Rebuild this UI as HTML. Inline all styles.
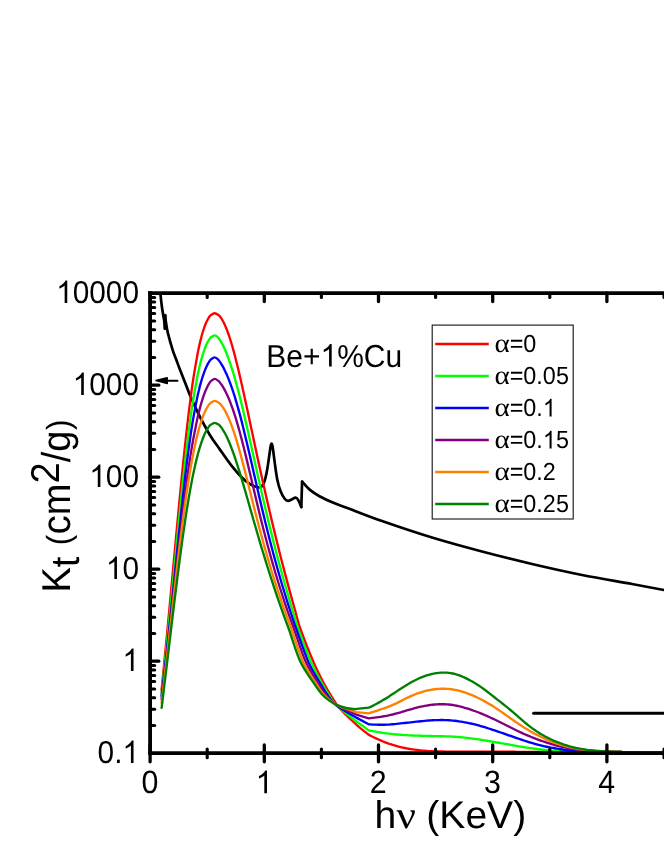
<!DOCTYPE html>
<html><head><meta charset="utf-8"><title>chart</title>
<style>
html,body{margin:0;padding:0;background:#fff;}
body{width:664px;height:860px;overflow:hidden;position:relative;font-family:"Liberation Sans",sans-serif;}
.t{font-family:"Liberation Sans",sans-serif;fill:#000;text-rendering:geometricPrecision;}
.sym{font-family:"Liberation Serif",serif;}
.sym2{font-family:"Liberation Serif",serif;font-style:italic;}
</style></head><body>
<svg width="664" height="860" viewBox="0 0 664 860" style="position:absolute;left:0;top:0;display:block;will-change:transform">
<rect width="664" height="860" fill="#fff"/>
<defs><clipPath id="pc"><rect x="150" y="292.7" width="520" height="462.5"/></clipPath></defs>
<g fill="none" stroke-linejoin="round" stroke-linecap="round" clip-path="url(#pc)">
<path d="M160.00 286.00 C160.08 287.43 160.18 291.15 160.50 294.60 C160.82 298.05 161.45 303.30 161.90 306.70 C162.35 310.10 162.78 312.45 163.20 315.00 C163.62 317.55 164.07 319.77 164.40 322.00 C164.73 324.23 165.07 327.33 165.20 328.40" stroke="#000" stroke-width="2.7"/>
<path d="M165.00 328.40 L165.00 315.30" stroke="#000" stroke-width="3.2"/>
<path d="M165.00 315.30 C165.20 316.75 165.72 321.02 166.20 324.00 C166.68 326.98 166.82 328.85 167.90 333.20 C168.98 337.55 171.28 345.63 172.70 350.10 C174.12 354.57 175.20 356.77 176.40 360.00 C177.60 363.23 178.30 365.33 179.90 369.50 C181.50 373.67 184.25 380.57 186.00 385.00 C187.75 389.43 188.38 391.40 190.40 396.10 C192.42 400.80 194.88 406.77 198.10 413.20 C201.32 419.63 206.05 428.63 209.70 434.70 C213.35 440.77 216.40 444.48 220.00 449.60 C223.60 454.72 227.78 460.88 231.30 465.40 C234.82 469.92 237.97 473.57 241.10 476.70 C244.23 479.83 247.33 482.45 250.10 484.20 C252.87 485.95 255.80 486.80 257.70 487.20 C259.60 487.60 260.38 487.55 261.50 486.60 C262.62 485.65 263.53 483.90 264.40 481.50 C265.27 479.10 266.07 475.27 266.70 472.20 C267.33 469.13 267.55 467.38 268.20 463.10 C268.85 458.82 270.05 449.75 270.60 446.50 C271.15 443.25 271.17 443.60 271.50 443.60 C271.83 443.60 272.05 443.25 272.60 446.50 C273.15 449.75 274.02 457.57 274.80 463.10 C275.58 468.63 276.33 475.00 277.30 479.70 C278.27 484.40 279.37 488.13 280.60 491.30 C281.83 494.47 283.47 497.10 284.70 498.70 C285.93 500.30 286.75 500.82 288.00 500.90 C289.25 500.98 290.95 499.75 292.20 499.20 C293.45 498.65 294.53 497.53 295.50 497.60 C296.47 497.67 297.03 498.03 298.00 499.60 C298.97 501.17 300.75 505.77 301.30 507.00" stroke="#000" stroke-width="2.7"/>
<path d="M301.30 507.00 L302.10 481.70" stroke="#000" stroke-width="2.7"/>
<path d="M302.10 481.70 C303.35 483.02 306.70 487.18 309.60 489.60 C312.50 492.02 315.63 494.05 319.50 496.20 C323.37 498.35 327.83 500.42 332.80 502.50 C337.77 504.58 341.10 505.62 349.30 508.70 C357.50 511.78 368.22 516.20 382.00 521.00 C395.78 525.80 415.33 532.42 432.00 537.50 C448.67 542.58 465.33 547.08 482.00 551.50 C498.67 555.92 515.33 560.08 532.00 564.00 C548.67 567.92 565.33 571.67 582.00 575.00 C598.67 578.33 618.33 581.50 632.00 584.00 C645.67 586.50 656.00 588.50 664.00 590.00 C672.00 591.50 677.33 592.50 680.00 593.00" stroke="#000" stroke-width="2.7"/>
<path d="M161.58 690.00 C162.01 685.68 163.29 672.73 164.14 664.10 C164.98 655.46 165.81 646.83 166.63 638.19 C167.46 629.56 168.27 620.92 169.08 612.29 C169.89 603.65 170.69 595.02 171.50 586.38 C172.30 577.75 173.09 569.12 173.89 560.48 C174.69 551.85 175.49 543.21 176.29 534.58 C177.10 525.94 177.90 517.31 178.72 508.67 C179.55 500.04 180.37 491.40 181.22 482.77 C182.07 474.13 182.93 465.50 183.82 456.87 C184.72 448.23 185.63 439.60 186.61 430.96 C187.59 422.33 188.58 413.69 189.69 405.06 C190.79 396.42 191.91 387.79 193.24 379.15 C194.57 370.52 196.81 358.23 197.68 353.25 C198.56 348.27 198.29 350.25 198.50 349.25 C198.71 348.25 198.78 347.92 198.93 347.25 C199.07 346.58 199.22 345.92 199.37 345.25 C199.52 344.58 199.67 343.92 199.83 343.25 C199.99 342.58 200.14 341.92 200.31 341.25 C200.47 340.58 200.63 339.92 200.80 339.25 C200.97 338.58 201.14 337.92 201.32 337.25 C201.49 336.58 201.67 335.92 201.86 335.25 C202.04 334.58 202.23 333.92 202.43 333.25 C202.62 332.58 202.82 331.92 203.03 331.25 C203.24 330.58 203.45 329.92 203.67 329.25 C203.89 328.58 204.12 327.92 204.35 327.25 C204.59 326.58 204.84 325.92 205.09 325.25 C205.35 324.58 205.62 323.92 205.90 323.25 C206.19 322.58 206.48 321.92 206.81 321.25 C207.13 320.58 207.46 319.92 207.84 319.25 C208.22 318.58 208.60 317.92 209.07 317.25 C209.55 316.58 209.76 315.92 210.70 315.25 C211.64 314.58 213.35 313.25 214.70 313.25 C216.05 313.25 217.81 314.58 218.78 315.25 C219.75 315.92 220.01 316.58 220.53 317.25 C221.04 317.92 221.46 318.58 221.88 319.25 C222.30 319.92 222.67 320.58 223.03 321.25 C223.39 321.92 223.73 322.58 224.06 323.25 C224.38 323.92 224.69 324.58 224.99 325.25 C225.29 325.92 225.57 326.58 225.85 327.25 C226.13 327.92 226.40 328.58 226.66 329.25 C226.92 329.92 227.18 330.58 227.43 331.25 C227.67 331.92 227.92 332.58 228.15 333.25 C228.39 333.92 228.62 334.58 228.85 335.25 C229.08 335.92 229.30 336.58 229.52 337.25 C229.74 337.92 229.95 338.58 230.17 339.25 C230.38 339.92 230.59 340.58 230.79 341.25 C231.00 341.92 231.20 342.58 231.40 343.25 C231.60 343.92 231.79 344.58 231.99 345.25 C232.18 345.92 232.38 346.58 232.57 347.25 C232.76 347.92 232.85 348.25 233.13 349.25 C233.41 350.25 233.27 349.51 234.22 353.25 C235.17 356.99 237.37 365.55 238.84 371.70 C240.31 377.85 241.68 384.00 243.05 390.15 C244.42 396.30 245.74 402.45 247.06 408.60 C248.39 414.75 249.69 420.90 251.00 427.05 C252.31 433.20 253.62 439.35 254.94 445.50 C256.26 451.65 257.58 457.80 258.92 463.95 C260.26 470.10 261.61 476.25 262.98 482.40 C264.35 488.55 265.74 494.70 267.15 500.85 C268.57 507.00 270.00 513.15 271.46 519.30 C272.92 525.45 274.40 531.60 275.91 537.75 C277.42 543.90 278.95 550.05 280.51 556.20 C282.08 562.35 283.67 568.50 285.29 574.65 C286.92 580.80 288.57 586.95 290.26 593.10 C291.94 599.25 293.66 605.40 295.41 611.55 C297.16 617.70 297.77 621.66 300.75 630.00 C303.74 638.34 309.51 652.82 313.30 661.60 C317.09 670.38 320.67 677.25 323.50 682.70 C326.33 688.15 328.63 691.48 330.30 694.30 C331.97 697.12 332.43 697.88 333.50 699.60 C334.57 701.32 335.45 702.90 336.70 704.60 C337.95 706.30 339.45 708.07 341.00 709.80 C342.55 711.53 343.45 712.53 346.00 715.00 C348.55 717.47 353.97 722.45 356.30 724.60 C358.63 726.75 359.38 727.35 360.00 727.90 L368.60 734.60 L370.60 735.71 L372.60 736.74 L374.60 737.71 L376.60 738.64 L378.60 739.52 L380.60 740.37 L382.60 741.23 L384.60 742.04 L386.60 742.81 L388.60 743.55 L390.60 744.24 L392.60 744.88 L394.60 745.49 L396.60 746.06 L398.60 746.59 L400.60 747.09 L402.60 747.55 L404.60 747.98 L406.60 748.37 L408.60 748.74 L410.60 749.07 L412.60 749.38 L414.60 749.67 L416.60 749.93 L418.60 750.17 L420.60 750.38 L422.60 750.58 L424.60 750.75 L426.60 750.91 L428.60 751.05 L430.60 751.16 L432.60 751.26 L434.60 751.34 L436.60 751.41 L438.60 751.46 L440.60 751.50 L442.60 751.53 L444.60 751.55 L446.60 751.57 L448.60 751.59 L450.60 751.60 L452.60 751.61 L454.60 751.62 L456.60 751.63 L458.60 751.63 L460.60 751.64 L462.60 751.65 L464.60 751.65 L466.60 751.66 L468.60 751.67 L470.60 751.67 L472.60 751.68 L474.60 751.68 L476.60 751.69 L478.60 751.70 L480.60 751.70 L482.60 751.71 L484.60 751.71 L486.60 751.72 L488.60 751.73 L490.60 751.73 L492.60 751.74 L494.60 751.75 L496.60 751.75 L498.60 751.76 L500.60 751.76 L502.60 751.77 L504.60 751.77 L506.60 751.78 L508.60 751.78 L510.60 751.79 L512.60 751.79 L514.60 751.79 L516.60 751.80 L518.60 751.80 L520.60 751.80 L522.60 751.80 L524.60 751.80 L526.60 751.80 L528.60 751.80 L530.60 751.80 L532.60 751.80 L534.60 751.80 L536.60 751.80 L538.60 751.80 L540.60 751.80 L542.60 751.80 L544.60 751.80 L546.60 751.80 L548.60 751.80 L550.60 751.80 L552.60 751.80 L554.60 751.80 L556.60 751.80 L558.60 751.80 L560.60 751.80 L562.60 751.80 L564.60 751.80 L566.60 751.80 L568.60 751.80 L570.60 751.80 L572.60 751.80 L574.60 751.80 L576.60 751.80 L578.60 751.80 L580.60 751.80 L582.60 751.80 L584.60 751.80 L586.60 751.80 L588.60 751.80 L590.60 751.80 L592.60 751.80 L594.60 751.80 L596.60 751.81 L598.60 751.81 L600.60 751.81 L602.60 751.82 L604.60 751.83 L606.60 751.84 L608.60 751.86 L610.60 751.87 L612.60 751.90 L614.60 751.92 L616.60 751.95 L618.60 751.98 L620.60 752.01 L622.60 752.05 L624.60 752.09 L626.60 752.13 L628.60 752.17 L630.60 752.21 L632.60 752.25 L634.60 752.29 L636.60 752.33 L638.60 752.36 L640.60 752.39 L642.60 752.41 L644.60 752.44 L646.60 752.46 L648.60 752.48 L650.60 752.50 L652.60 752.51 L654.60 752.53 L656.60 752.54 L658.60 752.55 L660.60 752.56 L662.60 752.57 L664.60 752.58 L666.60 752.59 L668.60 752.59 L670.60 752.59" stroke="#ff0000" stroke-width="2.35"/>
<path d="M161.58 693.00 C162.02 688.93 163.35 676.71 164.22 668.56 C165.08 660.42 165.93 652.27 166.77 644.12 C167.60 635.98 168.43 627.83 169.24 619.68 C170.06 611.54 170.86 603.39 171.66 595.25 C172.46 587.10 173.25 578.95 174.04 570.81 C174.84 562.66 175.62 554.52 176.42 546.37 C177.21 538.22 178.00 530.08 178.81 521.93 C179.62 513.78 180.43 505.64 181.26 497.49 C182.10 489.35 182.94 481.20 183.83 473.05 C184.72 464.91 185.62 456.76 186.59 448.62 C187.56 440.47 188.55 432.32 189.65 424.18 C190.75 416.03 191.87 407.88 193.20 399.74 C194.52 391.59 196.73 380.04 197.61 375.30 C198.49 370.56 198.25 372.30 198.47 371.30 C198.69 370.30 198.77 369.97 198.92 369.30 C199.07 368.63 199.22 367.97 199.38 367.30 C199.54 366.63 199.70 365.97 199.86 365.30 C200.02 364.63 200.19 363.97 200.36 363.30 C200.52 362.63 200.70 361.97 200.87 361.30 C201.05 360.63 201.23 359.97 201.41 359.30 C201.59 358.63 201.78 357.97 201.97 357.30 C202.16 356.63 202.36 355.97 202.56 355.30 C202.76 354.63 202.97 353.97 203.18 353.30 C203.40 352.63 203.62 351.97 203.84 351.30 C204.07 350.63 204.30 349.97 204.55 349.30 C204.79 348.63 205.04 347.97 205.31 347.30 C205.57 346.63 205.84 345.97 206.13 345.30 C206.42 344.63 206.72 343.97 207.05 343.30 C207.37 342.63 207.71 341.97 208.08 341.30 C208.46 340.63 208.84 339.97 209.31 339.30 C209.79 338.63 210.01 337.97 210.91 337.30 C211.81 336.63 213.54 335.30 214.70 335.30 C215.86 335.30 217.07 336.63 217.86 337.30 C218.66 337.97 218.97 338.63 219.45 339.30 C219.93 339.97 220.34 340.63 220.75 341.30 C221.16 341.97 221.53 342.63 221.89 343.30 C222.26 343.97 222.60 344.63 222.94 345.30 C223.27 345.97 223.59 346.63 223.91 347.30 C224.22 347.97 224.52 348.63 224.81 349.30 C225.11 349.97 225.40 350.63 225.68 351.30 C225.96 351.97 226.23 352.63 226.50 353.30 C226.76 353.97 227.03 354.63 227.28 355.30 C227.54 355.97 227.79 356.63 228.04 357.30 C228.29 357.97 228.53 358.63 228.77 359.30 C229.01 359.97 229.24 360.63 229.48 361.30 C229.71 361.97 229.94 362.63 230.16 363.30 C230.39 363.97 230.61 364.63 230.83 365.30 C231.05 365.97 231.27 366.63 231.48 367.30 C231.70 367.97 231.91 368.63 232.12 369.30 C232.33 369.97 232.43 370.30 232.74 371.30 C233.04 372.30 232.96 371.80 233.94 375.30 C234.92 378.80 237.13 386.62 238.61 392.28 C240.10 397.94 241.47 403.60 242.83 409.26 C244.19 414.92 245.49 420.58 246.79 426.24 C248.09 431.90 249.35 437.56 250.62 443.22 C251.89 448.88 253.14 454.54 254.40 460.20 C255.66 465.86 256.91 471.52 258.19 477.18 C259.46 482.84 260.74 488.50 262.04 494.16 C263.34 499.82 264.66 505.48 266.00 511.14 C267.34 516.80 268.70 522.46 270.09 528.12 C271.48 533.78 272.89 539.44 274.34 545.10 C275.78 550.76 277.26 556.42 278.77 562.08 C280.28 567.74 281.82 573.40 283.40 579.06 C284.99 584.72 286.60 590.38 288.26 596.04 C289.92 601.70 291.61 607.36 293.35 613.02 C295.09 618.68 295.78 621.90 298.69 630.00 C301.60 638.10 306.97 652.82 310.80 661.60 C314.63 670.38 318.73 677.25 321.70 682.70 C324.67 688.15 326.15 690.50 328.60 694.30 C331.05 698.10 331.78 701.00 336.40 705.50 C341.02 710.00 352.98 718.67 356.30 721.30 L368.70 730.40 L370.70 730.75 L372.70 731.10 L374.70 731.46 L376.70 731.82 L378.70 732.17 L380.70 732.51 L382.70 732.84 L384.70 733.15 L386.70 733.43 L388.70 733.69 L390.70 733.92 L392.70 734.12 L394.70 734.30 L396.70 734.47 L398.70 734.62 L400.70 734.77 L402.70 734.92 L404.70 735.06 L406.70 735.20 L408.70 735.31 L410.70 735.42 L412.70 735.51 L414.70 735.58 L416.70 735.65 L418.70 735.70 L420.70 735.76 L422.70 735.81 L424.70 735.86 L426.70 735.91 L428.70 735.96 L430.70 736.00 L432.70 736.05 L434.70 736.09 L436.70 736.13 L438.70 736.17 L440.70 736.21 L442.70 736.25 L444.70 736.30 L446.70 736.35 L448.70 736.42 L450.70 736.51 L452.70 736.61 L454.70 736.73 L456.70 736.88 L458.70 737.04 L460.70 737.22 L462.70 737.42 L464.70 737.63 L466.70 737.85 L468.70 738.09 L470.70 738.34 L472.70 738.60 L474.70 738.87 L476.70 739.16 L478.70 739.46 L480.70 739.77 L482.70 740.08 L484.70 740.41 L486.70 740.73 L488.70 741.06 L490.70 741.40 L492.70 741.73 L494.70 742.06 L496.70 742.40 L498.70 742.74 L500.70 743.08 L502.70 743.43 L504.70 743.79 L506.70 744.14 L508.70 744.50 L510.70 744.87 L512.70 745.23 L514.70 745.59 L516.70 745.94 L518.70 746.29 L520.70 746.63 L522.70 746.96 L524.70 747.28 L526.70 747.59 L528.70 747.89 L530.70 748.18 L532.70 748.46 L534.70 748.73 L536.70 748.99 L538.70 749.25 L540.70 749.49 L542.70 749.73 L544.70 749.96 L546.70 750.17 L548.70 750.37 L550.70 750.56 L552.70 750.72 L554.70 750.86 L556.70 750.98 L558.70 751.08 L560.70 751.17 L562.70 751.24 L564.70 751.31 L566.70 751.36 L568.70 751.40 L570.70 751.45 L572.70 751.48 L574.70 751.51 L576.70 751.54 L578.70 751.57 L580.70 751.60 L582.70 751.62 L584.70 751.64 L586.70 751.66 L588.70 751.68 L590.70 751.70 L592.70 751.71 L594.70 751.73 L596.70 751.74 L598.70 751.76 L600.70 751.78 L602.70 751.79 L604.70 751.81 L606.70 751.83 L608.70 751.85 L610.70 751.87 L612.70 751.89 L614.70 751.92 L616.70 751.95 L618.70 751.98 L620.70 752.02 L622.70 752.06 L624.70 752.10 L626.70 752.14 L628.70 752.18 L630.70 752.22 L632.70 752.26 L634.70 752.30 L636.70 752.33 L638.70 752.36 L640.70 752.39 L642.70 752.41 L644.70 752.44 L646.70 752.46 L648.70 752.48 L650.70 752.50 L652.70 752.51 L654.70 752.53 L656.70 752.54 L658.70 752.55 L660.70 752.56 L662.70 752.57 L664.70 752.58 L666.70 752.59 L668.70 752.59 L670.70 752.59" stroke="#00ff00" stroke-width="2.35"/>
<path d="M161.58 696.00 C162.04 692.17 163.41 680.69 164.29 673.03 C165.17 665.37 166.04 657.72 166.88 650.06 C167.73 642.41 168.56 634.75 169.38 627.09 C170.20 619.44 171.00 611.78 171.79 604.12 C172.59 596.47 173.37 588.81 174.15 581.15 C174.93 573.50 175.71 565.84 176.49 558.18 C177.27 550.53 178.04 542.87 178.83 535.22 C179.62 527.56 180.41 519.90 181.23 512.25 C182.04 504.59 182.86 496.93 183.73 489.28 C184.60 481.62 185.48 473.96 186.43 466.31 C187.38 458.65 188.35 450.99 189.43 443.34 C190.51 435.68 191.62 428.03 192.92 420.37 C194.23 412.71 196.39 401.89 197.26 397.40 C198.14 392.91 197.93 394.40 198.16 393.40 C198.38 392.40 198.46 392.07 198.62 391.40 C198.78 390.73 198.94 390.07 199.10 389.40 C199.27 388.73 199.43 388.07 199.60 387.40 C199.77 386.73 199.95 386.07 200.12 385.40 C200.30 384.73 200.48 384.07 200.66 383.40 C200.84 382.73 201.03 382.07 201.22 381.40 C201.41 380.73 201.61 380.07 201.81 379.40 C202.01 378.73 202.21 378.07 202.42 377.40 C202.63 376.73 202.84 376.07 203.07 375.40 C203.29 374.73 203.52 374.07 203.75 373.40 C203.99 372.73 204.23 372.07 204.48 371.40 C204.73 370.73 204.99 370.07 205.27 369.40 C205.54 368.73 205.82 368.07 206.12 367.40 C206.42 366.73 206.73 366.07 207.06 365.40 C207.39 364.73 207.74 364.07 208.12 363.40 C208.51 362.73 208.90 362.07 209.38 361.40 C209.85 360.73 210.10 360.07 210.98 359.40 C211.87 358.73 213.55 357.40 214.70 357.40 C215.85 357.40 217.08 358.73 217.88 359.40 C218.69 360.07 219.04 360.73 219.55 361.40 C220.06 362.07 220.50 362.73 220.93 363.40 C221.37 364.07 221.77 364.73 222.16 365.40 C222.55 366.07 222.92 366.73 223.27 367.40 C223.63 368.07 223.98 368.73 224.31 369.40 C224.65 370.07 224.97 370.73 225.29 371.40 C225.60 372.07 225.91 372.73 226.21 373.40 C226.51 374.07 226.80 374.73 227.09 375.40 C227.37 376.07 227.65 376.73 227.92 377.40 C228.20 378.07 228.47 378.73 228.73 379.40 C229.00 380.07 229.25 380.73 229.51 381.40 C229.76 382.07 230.01 382.73 230.26 383.40 C230.51 384.07 230.75 384.73 230.99 385.40 C231.23 386.07 231.46 386.73 231.69 387.40 C231.93 388.07 232.16 388.73 232.38 389.40 C232.61 390.07 232.83 390.73 233.05 391.40 C233.27 392.07 233.38 392.40 233.70 393.40 C234.02 394.40 234.01 394.15 234.96 397.40 C235.92 400.65 238.01 407.74 239.42 412.91 C240.83 418.08 242.13 423.24 243.42 428.41 C244.71 433.58 245.93 438.75 247.15 443.92 C248.37 449.09 249.55 454.26 250.74 459.43 C251.93 464.60 253.09 469.76 254.27 474.93 C255.45 480.10 256.62 485.27 257.82 490.44 C259.01 495.61 260.20 500.78 261.42 505.95 C262.65 511.12 263.88 516.28 265.14 521.45 C266.40 526.62 267.68 531.79 269.00 536.96 C270.32 542.13 271.66 547.30 273.03 552.47 C274.41 557.64 275.82 562.80 277.27 567.97 C278.71 573.14 280.20 578.31 281.72 583.48 C283.25 588.65 284.81 593.82 286.42 598.99 C288.03 604.16 289.68 609.32 291.38 614.49 C293.08 619.66 293.82 622.15 296.62 630.00 C299.42 637.85 304.34 652.82 308.20 661.60 C312.06 670.38 316.67 677.25 319.80 682.70 C322.93 688.15 324.23 690.53 327.00 694.30 C329.77 698.07 331.52 701.42 336.40 705.30 C341.28 709.18 352.98 715.55 356.30 717.60 L368.70 724.30 L370.70 724.44 L372.70 724.55 L374.70 724.63 L376.70 724.69 L378.70 724.73 L380.70 724.74 L382.70 724.74 L384.70 724.72 L386.70 724.66 L388.70 724.56 L390.70 724.42 L392.70 724.25 L394.70 724.06 L396.70 723.85 L398.70 723.63 L400.70 723.41 L402.70 723.20 L404.70 722.99 L406.70 722.79 L408.70 722.58 L410.70 722.37 L412.70 722.15 L414.70 721.92 L416.70 721.70 L418.70 721.47 L420.70 721.25 L422.70 721.05 L424.70 720.85 L426.70 720.68 L428.70 720.52 L430.70 720.38 L432.70 720.26 L434.70 720.17 L436.70 720.10 L438.70 720.05 L440.70 720.03 L442.70 720.04 L444.70 720.07 L446.70 720.14 L448.70 720.24 L450.70 720.38 L452.70 720.55 L454.70 720.77 L456.70 721.01 L458.70 721.30 L460.70 721.61 L462.70 721.94 L464.70 722.30 L466.70 722.68 L468.70 723.08 L470.70 723.51 L472.70 723.96 L474.70 724.44 L476.70 724.94 L478.70 725.48 L480.70 726.04 L482.70 726.63 L484.70 727.24 L486.70 727.86 L488.70 728.50 L490.70 729.15 L492.70 729.81 L494.70 730.48 L496.70 731.15 L498.70 731.82 L500.70 732.50 L502.70 733.19 L504.70 733.88 L506.70 734.57 L508.70 735.27 L510.70 735.97 L512.70 736.67 L514.70 737.36 L516.70 738.06 L518.70 738.75 L520.70 739.43 L522.70 740.10 L524.70 740.75 L526.70 741.40 L528.70 742.03 L530.70 742.64 L532.70 743.23 L534.70 743.81 L536.70 744.35 L538.70 744.88 L540.70 745.38 L542.70 745.85 L544.70 746.30 L546.70 746.73 L548.70 747.14 L550.70 747.53 L552.70 747.90 L554.70 748.26 L556.70 748.60 L558.70 748.93 L560.70 749.23 L562.70 749.52 L564.70 749.79 L566.70 750.04 L568.70 750.26 L570.70 750.45 L572.70 750.62 L574.70 750.76 L576.70 750.88 L578.70 750.99 L580.70 751.08 L582.70 751.15 L584.70 751.22 L586.70 751.29 L588.70 751.34 L590.70 751.39 L592.70 751.44 L594.70 751.49 L596.70 751.53 L598.70 751.58 L600.70 751.62 L602.70 751.66 L604.70 751.70 L606.70 751.74 L608.70 751.78 L610.70 751.82 L612.70 751.86 L614.70 751.90 L616.70 751.94 L618.70 751.99 L620.70 752.03 L622.70 752.08 L624.70 752.12 L626.70 752.16 L628.70 752.20 L630.70 752.24 L632.70 752.28 L634.70 752.31 L636.70 752.34 L638.70 752.37 L640.70 752.39 L642.70 752.42 L644.70 752.44 L646.70 752.46 L648.70 752.48 L650.70 752.50 L652.70 752.51 L654.70 752.53 L656.70 752.54 L658.70 752.55 L660.70 752.56 L662.70 752.57 L664.70 752.58 L666.70 752.59 L668.70 752.59 L670.70 752.59" stroke="#0000ff" stroke-width="2.35"/>
<path d="M161.61 699.00 C162.03 695.41 163.31 684.64 164.14 677.45 C164.98 670.27 165.80 663.09 166.61 655.91 C167.42 648.73 168.23 641.54 169.02 634.36 C169.82 627.18 170.61 620.00 171.40 612.82 C172.19 605.63 172.97 598.45 173.76 591.27 C174.55 584.09 175.33 576.91 176.12 569.72 C176.92 562.54 177.71 555.36 178.53 548.18 C179.34 540.99 180.16 533.81 181.00 526.63 C181.85 519.45 182.70 512.27 183.60 505.08 C184.50 497.90 185.42 490.72 186.40 483.54 C187.38 476.36 188.38 469.17 189.48 461.99 C190.59 454.81 191.72 447.63 193.02 440.45 C194.32 433.26 196.44 423.16 197.30 418.90 C198.17 414.64 197.99 415.90 198.22 414.90 C198.46 413.90 198.54 413.57 198.71 412.90 C198.87 412.23 199.03 411.57 199.20 410.90 C199.37 410.23 199.54 409.57 199.71 408.90 C199.89 408.23 200.06 407.57 200.24 406.90 C200.42 406.23 200.61 405.57 200.79 404.90 C200.98 404.23 201.17 403.57 201.37 402.90 C201.56 402.23 201.76 401.57 201.96 400.90 C202.16 400.23 202.37 399.57 202.58 398.90 C202.80 398.23 203.02 397.57 203.24 396.90 C203.47 396.23 203.69 395.57 203.93 394.90 C204.17 394.23 204.41 393.57 204.67 392.90 C204.92 392.23 205.18 391.57 205.46 390.90 C205.73 390.23 206.01 389.57 206.31 388.90 C206.61 388.23 206.92 387.57 207.25 386.90 C207.59 386.23 207.93 385.57 208.31 384.90 C208.70 384.23 209.08 383.57 209.56 382.90 C210.03 382.23 210.27 381.57 211.15 380.90 C212.02 380.23 213.59 378.90 214.80 378.90 C216.01 378.90 217.51 380.23 218.41 380.90 C219.32 381.57 219.67 382.23 220.22 382.90 C220.76 383.57 221.23 384.23 221.69 384.90 C222.14 385.57 222.56 386.23 222.97 386.90 C223.38 387.57 223.76 388.23 224.14 388.90 C224.51 389.57 224.86 390.23 225.21 390.90 C225.55 391.57 225.89 392.23 226.21 392.90 C226.53 393.57 226.85 394.23 227.15 394.90 C227.46 395.57 227.76 396.23 228.05 396.90 C228.34 397.57 228.62 398.23 228.90 398.90 C229.18 399.57 229.45 400.23 229.72 400.90 C229.98 401.57 230.24 402.23 230.50 402.90 C230.76 403.57 231.01 404.23 231.25 404.90 C231.50 405.57 231.75 406.23 231.99 406.90 C232.22 407.57 232.46 408.23 232.69 408.90 C232.93 409.57 233.15 410.23 233.38 410.90 C233.61 411.57 233.83 412.23 234.05 412.90 C234.27 413.57 234.38 413.90 234.70 414.90 C235.02 415.90 235.07 415.89 235.95 418.90 C236.84 421.91 238.71 428.28 240.00 432.97 C241.28 437.66 242.47 442.36 243.65 447.05 C244.84 451.74 245.96 456.43 247.09 461.12 C248.22 465.81 249.32 470.50 250.42 475.19 C251.53 479.88 252.62 484.58 253.73 489.27 C254.83 493.96 255.94 498.65 257.06 503.34 C258.19 508.03 259.32 512.72 260.48 517.41 C261.64 522.10 262.81 526.80 264.02 531.49 C265.22 536.18 266.45 540.87 267.71 545.56 C268.97 550.25 270.25 554.94 271.58 559.63 C272.90 564.32 274.26 569.02 275.65 573.71 C277.05 578.40 278.48 583.09 279.95 587.78 C281.42 592.47 282.93 597.16 284.49 601.85 C286.05 606.54 287.64 611.24 289.29 615.93 C290.94 620.62 291.65 622.39 294.36 630.00 C297.08 637.61 301.71 652.82 305.60 661.60 C309.49 670.38 314.42 677.25 317.70 682.70 C320.98 688.15 322.18 690.58 325.30 694.30 C328.42 698.02 331.23 701.62 336.40 705.00 C341.57 708.38 352.98 713.00 356.30 714.60 L368.70 718.30 L370.70 718.09 L372.70 717.86 L374.70 717.62 L376.70 717.36 L378.70 717.08 L380.70 716.79 L382.70 716.49 L384.70 716.16 L386.70 715.80 L388.70 715.40 L390.70 714.96 L392.70 714.49 L394.70 713.97 L396.70 713.43 L398.70 712.86 L400.70 712.28 L402.70 711.68 L404.70 711.09 L406.70 710.49 L408.70 709.90 L410.70 709.32 L412.70 708.76 L414.70 708.21 L416.70 707.69 L418.70 707.20 L420.70 706.73 L422.70 706.30 L424.70 705.90 L426.70 705.55 L428.70 705.23 L430.70 704.95 L432.70 704.71 L434.70 704.52 L436.70 704.38 L438.70 704.28 L440.70 704.23 L442.70 704.22 L444.70 704.26 L446.70 704.36 L448.70 704.51 L450.70 704.73 L452.70 705.00 L454.70 705.34 L456.70 705.74 L458.70 706.19 L460.70 706.68 L462.70 707.21 L464.70 707.77 L466.70 708.35 L468.70 708.97 L470.70 709.62 L472.70 710.29 L474.70 711.00 L476.70 711.75 L478.70 712.52 L480.70 713.33 L482.70 714.17 L484.70 715.02 L486.70 715.90 L488.70 716.80 L490.70 717.70 L492.70 718.62 L494.70 719.56 L496.70 720.51 L498.70 721.47 L500.70 722.45 L502.70 723.44 L504.70 724.45 L506.70 725.46 L508.70 726.48 L510.70 727.50 L512.70 728.51 L514.70 729.52 L516.70 730.50 L518.70 731.47 L520.70 732.42 L522.70 733.34 L524.70 734.23 L526.70 735.10 L528.70 735.95 L530.70 736.77 L532.70 737.57 L534.70 738.35 L536.70 739.10 L538.70 739.84 L540.70 740.56 L542.70 741.26 L544.70 741.94 L546.70 742.60 L548.70 743.23 L550.70 743.85 L552.70 744.44 L554.70 745.01 L556.70 745.55 L558.70 746.06 L560.70 746.55 L562.70 747.01 L564.70 747.45 L566.70 747.86 L568.70 748.24 L570.70 748.59 L572.70 748.91 L574.70 749.20 L576.70 749.48 L578.70 749.72 L580.70 749.95 L582.70 750.15 L584.70 750.34 L586.70 750.51 L588.70 750.67 L590.70 750.81 L592.70 750.94 L594.70 751.06 L596.70 751.17 L598.70 751.27 L600.70 751.36 L602.70 751.45 L604.70 751.53 L606.70 751.61 L608.70 751.68 L610.70 751.75 L612.70 751.81 L614.70 751.87 L616.70 751.93 L618.70 751.98 L620.70 752.03 L622.70 752.08 L624.70 752.13 L626.70 752.17 L628.70 752.21 L630.70 752.25 L632.70 752.28 L634.70 752.31 L636.70 752.34 L638.70 752.37 L640.70 752.40 L642.70 752.42 L644.70 752.44 L646.70 752.46 L648.70 752.48 L650.70 752.50 L652.70 752.51 L654.70 752.53 L656.70 752.54 L658.70 752.55 L660.70 752.56 L662.70 752.57 L664.70 752.58 L666.70 752.59 L668.70 752.59 L670.70 752.59" stroke="#800080" stroke-width="2.35"/>
<path d="M161.62 703.00 C162.01 699.64 163.20 689.56 163.98 682.84 C164.76 676.12 165.54 669.40 166.30 662.68 C167.07 655.96 167.83 649.24 168.59 642.52 C169.35 635.79 170.11 629.07 170.86 622.35 C171.62 615.63 172.37 608.91 173.13 602.19 C173.89 595.47 174.65 588.75 175.42 582.03 C176.19 575.31 176.96 568.59 177.75 561.87 C178.54 555.15 179.34 548.43 180.16 541.71 C180.99 534.99 181.82 528.27 182.70 521.55 C183.57 514.83 184.46 508.11 185.42 501.38 C186.37 494.66 187.34 487.94 188.41 481.22 C189.48 474.50 190.57 467.78 191.83 461.06 C193.08 454.34 195.10 444.93 195.95 440.90 C196.79 436.87 196.65 437.90 196.89 436.90 C197.13 435.90 197.22 435.57 197.39 434.90 C197.55 434.23 197.72 433.57 197.90 432.90 C198.07 432.23 198.24 431.57 198.42 430.90 C198.60 430.23 198.78 429.57 198.97 428.90 C199.16 428.23 199.35 427.57 199.54 426.90 C199.73 426.23 199.93 425.57 200.13 424.90 C200.33 424.23 200.54 423.57 200.75 422.90 C200.96 422.23 201.18 421.57 201.40 420.90 C201.62 420.23 201.85 419.57 202.08 418.90 C202.32 418.23 202.56 417.57 202.81 416.90 C203.06 416.23 203.32 415.57 203.58 414.90 C203.85 414.23 204.13 413.57 204.42 412.90 C204.71 412.23 205.01 411.57 205.33 410.90 C205.65 410.23 205.98 409.57 206.33 408.90 C206.69 408.23 207.06 407.57 207.48 406.90 C207.89 406.23 208.31 405.57 208.83 404.90 C209.35 404.23 209.60 403.57 210.60 402.90 C211.59 402.23 213.38 400.90 214.80 400.90 C216.22 400.90 218.06 402.23 219.11 402.90 C220.15 403.57 220.47 404.23 221.06 404.90 C221.64 405.57 222.12 406.23 222.60 406.90 C223.07 407.57 223.50 408.23 223.92 408.90 C224.33 409.57 224.72 410.23 225.10 410.90 C225.47 411.57 225.83 412.23 226.17 412.90 C226.52 413.57 226.85 414.23 227.17 414.90 C227.49 415.57 227.80 416.23 228.10 416.90 C228.40 417.57 228.69 418.23 228.98 418.90 C229.27 419.57 229.54 420.23 229.82 420.90 C230.09 421.57 230.35 422.23 230.61 422.90 C230.88 423.57 231.13 424.23 231.38 424.90 C231.63 425.57 231.88 426.23 232.12 426.90 C232.36 427.57 232.60 428.23 232.83 428.90 C233.07 429.57 233.29 430.23 233.52 430.90 C233.75 431.57 233.97 432.23 234.19 432.90 C234.41 433.57 234.63 434.23 234.84 434.90 C235.06 435.57 235.17 435.90 235.48 436.90 C235.79 437.90 235.91 438.13 236.71 440.90 C237.52 443.67 239.16 449.30 240.32 453.51 C241.47 457.71 242.56 461.91 243.65 466.11 C244.74 470.32 245.79 474.52 246.85 478.72 C247.91 482.92 248.95 487.12 250.00 491.33 C251.05 495.53 252.10 499.73 253.16 503.93 C254.22 508.14 255.28 512.34 256.37 516.54 C257.45 520.74 258.55 524.94 259.67 529.15 C260.79 533.35 261.92 537.55 263.09 541.75 C264.25 545.96 265.43 550.16 266.64 554.36 C267.86 558.56 269.09 562.76 270.36 566.97 C271.63 571.17 272.93 575.37 274.26 579.57 C275.59 583.78 276.95 587.98 278.35 592.18 C279.74 596.38 281.17 600.58 282.64 604.79 C284.11 608.99 285.61 613.19 287.15 617.39 C288.69 621.60 289.26 622.63 291.88 630.00 C294.51 637.37 298.95 652.82 302.90 661.60 C306.85 670.38 312.15 677.25 315.60 682.70 C319.05 688.15 320.13 690.62 323.60 694.30 C327.07 697.98 330.95 701.82 336.40 704.80 C341.85 707.78 352.98 710.97 356.30 712.20 L368.70 713.30 L370.70 712.68 L372.70 712.04 L374.70 711.40 L376.70 710.76 L378.70 710.10 L380.70 709.44 L382.70 708.76 L384.70 708.07 L386.70 707.34 L388.70 706.59 L390.70 705.79 L392.70 704.95 L394.70 704.06 L396.70 703.12 L398.70 702.14 L400.70 701.13 L402.70 700.10 L404.70 699.07 L406.70 698.07 L408.70 697.10 L410.70 696.17 L412.70 695.30 L414.70 694.48 L416.70 693.72 L418.70 693.02 L420.70 692.37 L422.70 691.76 L424.70 691.21 L426.70 690.71 L428.70 690.26 L430.70 689.86 L432.70 689.53 L434.70 689.25 L436.70 689.04 L438.70 688.88 L440.70 688.79 L442.70 688.75 L444.70 688.78 L446.70 688.86 L448.70 689.00 L450.70 689.20 L452.70 689.48 L454.70 689.82 L456.70 690.22 L458.70 690.69 L460.70 691.22 L462.70 691.80 L464.70 692.44 L466.70 693.12 L468.70 693.85 L470.70 694.63 L472.70 695.45 L474.70 696.32 L476.70 697.24 L478.70 698.20 L480.70 699.21 L482.70 700.27 L484.70 701.36 L486.70 702.49 L488.70 703.66 L490.70 704.87 L492.70 706.11 L494.70 707.38 L496.70 708.68 L498.70 710.02 L500.70 711.38 L502.70 712.76 L504.70 714.17 L506.70 715.59 L508.70 717.01 L510.70 718.43 L512.70 719.85 L514.70 721.25 L516.70 722.63 L518.70 723.99 L520.70 725.32 L522.70 726.62 L524.70 727.89 L526.70 729.12 L528.70 730.32 L530.70 731.48 L532.70 732.61 L534.70 733.71 L536.70 734.77 L538.70 735.80 L540.70 736.80 L542.70 737.76 L544.70 738.69 L546.70 739.58 L548.70 740.44 L550.70 741.26 L552.70 742.05 L554.70 742.79 L556.70 743.50 L558.70 744.17 L560.70 744.81 L562.70 745.41 L564.70 745.97 L566.70 746.50 L568.70 747.00 L570.70 747.47 L572.70 747.90 L574.70 748.31 L576.70 748.69 L578.70 749.04 L580.70 749.36 L582.70 749.65 L584.70 749.92 L586.70 750.16 L588.70 750.38 L590.70 750.57 L592.70 750.75 L594.70 750.90 L596.70 751.04 L598.70 751.17 L600.70 751.28 L602.70 751.39 L604.70 751.48 L606.70 751.57 L608.70 751.65 L610.70 751.73 L612.70 751.80 L614.70 751.86 L616.70 751.93 L618.70 751.98 L620.70 752.03 L622.70 752.08 L624.70 752.13 L626.70 752.17 L628.70 752.21 L630.70 752.25 L632.70 752.28 L634.70 752.32 L636.70 752.35 L638.70 752.37 L640.70 752.40 L642.70 752.42 L644.70 752.44 L646.70 752.46 L648.70 752.48 L650.70 752.50 L652.70 752.51 L654.70 752.53 L656.70 752.54 L658.70 752.55 L660.70 752.56 L662.70 752.57 L664.70 752.58 L666.70 752.59 L668.70 752.59 L670.70 752.59" stroke="#ff8000" stroke-width="2.35"/>
<path d="M161.62 707.80 C162.00 704.66 163.16 695.24 163.92 688.95 C164.69 682.67 165.44 676.39 166.20 670.11 C166.96 663.83 167.71 657.54 168.46 651.26 C169.21 644.98 169.96 638.70 170.71 632.42 C171.47 626.13 172.22 619.85 172.98 613.57 C173.74 607.29 174.50 601.01 175.27 594.72 C176.05 588.44 176.82 582.16 177.62 575.88 C178.42 569.59 179.22 563.31 180.05 557.03 C180.88 550.75 181.72 544.47 182.60 538.18 C183.48 531.90 184.38 525.62 185.33 519.34 C186.29 513.06 187.26 506.77 188.32 500.49 C189.39 494.21 190.47 487.93 191.70 481.65 C192.93 475.36 194.88 466.61 195.71 462.80 C196.54 458.99 196.43 459.80 196.68 458.80 C196.93 457.80 197.02 457.47 197.19 456.80 C197.36 456.13 197.53 455.47 197.71 454.80 C197.89 454.13 198.07 453.47 198.25 452.80 C198.44 452.13 198.62 451.47 198.81 450.80 C199.00 450.13 199.20 449.47 199.39 448.80 C199.59 448.13 199.79 447.47 200.00 446.80 C200.20 446.13 200.41 445.47 200.63 444.80 C200.84 444.13 201.06 443.47 201.29 442.80 C201.52 442.13 201.75 441.47 201.99 440.80 C202.23 440.13 202.47 439.47 202.73 438.80 C202.98 438.13 203.24 437.47 203.51 436.80 C203.78 436.13 204.06 435.47 204.36 434.80 C204.65 434.13 204.96 433.47 205.28 432.80 C205.60 432.13 205.93 431.47 206.30 430.80 C206.66 430.13 207.03 429.47 207.45 428.80 C207.87 428.13 208.29 427.47 208.82 426.80 C209.34 426.13 209.59 425.47 210.59 424.80 C211.59 424.13 213.42 422.80 214.80 422.80 C216.18 422.80 217.89 424.13 218.88 424.80 C219.87 425.47 220.18 426.13 220.74 426.80 C221.30 427.47 221.77 428.13 222.23 428.80 C222.69 429.47 223.11 430.13 223.52 430.80 C223.92 431.47 224.30 432.13 224.67 432.80 C225.04 433.47 225.39 434.13 225.74 434.80 C226.08 435.47 226.41 436.13 226.73 436.80 C227.05 437.47 227.36 438.13 227.67 438.80 C227.97 439.47 228.27 440.13 228.56 440.80 C228.85 441.47 229.13 442.13 229.41 442.80 C229.69 443.47 229.96 444.13 230.23 444.80 C230.50 445.47 230.76 446.13 231.02 446.80 C231.28 447.47 231.53 448.13 231.78 448.80 C232.04 449.47 232.28 450.13 232.53 450.80 C232.77 451.47 233.02 452.13 233.25 452.80 C233.49 453.47 233.73 454.13 233.96 454.80 C234.20 455.47 234.43 456.13 234.66 456.80 C234.89 457.47 235.00 457.80 235.34 458.80 C235.67 459.80 235.86 460.28 236.66 462.80 C237.47 465.32 239.03 470.23 240.16 473.95 C241.30 477.66 242.39 481.38 243.49 485.09 C244.58 488.81 245.64 492.52 246.71 496.24 C247.78 499.96 248.84 503.67 249.90 507.39 C250.96 511.10 252.01 514.82 253.08 518.53 C254.14 522.25 255.21 525.96 256.29 529.68 C257.37 533.40 258.45 537.11 259.55 540.83 C260.65 544.54 261.76 548.26 262.88 551.97 C264.00 555.69 265.14 559.40 266.30 563.12 C267.45 566.84 268.62 570.55 269.81 574.27 C271.00 577.98 272.21 581.70 273.43 585.41 C274.66 589.13 275.91 592.84 277.17 596.56 C278.44 600.28 279.73 603.99 281.04 607.71 C282.35 611.42 283.69 615.14 285.05 618.85 C286.40 622.57 286.65 622.88 289.19 630.00 C291.73 637.12 296.25 652.82 300.30 661.60 C304.35 670.38 309.90 677.25 313.50 682.70 C317.10 688.15 319.27 691.32 321.90 694.30 C324.53 697.28 326.83 698.85 329.30 700.60 C331.77 702.35 333.90 703.57 336.70 704.80 C339.50 706.03 343.12 707.27 346.10 708.00 C349.08 708.73 353.18 709.00 354.60 709.20 L368.70 707.70 L370.70 706.82 L372.70 705.85 L374.70 704.82 L376.70 703.75 L378.70 702.63 L380.70 701.46 L382.70 700.31 L384.70 699.12 L386.70 697.89 L388.70 696.64 L390.70 695.35 L392.70 694.05 L394.70 692.72 L396.70 691.39 L398.70 690.06 L400.70 688.74 L402.70 687.44 L404.70 686.16 L406.70 684.92 L408.70 683.73 L410.70 682.59 L412.70 681.49 L414.70 680.45 L416.70 679.47 L418.70 678.54 L420.70 677.67 L422.70 676.86 L424.70 676.11 L426.70 675.42 L428.70 674.81 L430.70 674.26 L432.70 673.79 L434.70 673.39 L436.70 673.08 L438.70 672.84 L440.70 672.68 L442.70 672.60 L444.70 672.60 L446.70 672.68 L448.70 672.85 L450.70 673.12 L452.70 673.49 L454.70 673.96 L456.70 674.53 L458.70 675.20 L460.70 675.95 L462.70 676.77 L464.70 677.67 L466.70 678.62 L468.70 679.63 L470.70 680.70 L472.70 681.82 L474.70 683.00 L476.70 684.23 L478.70 685.53 L480.70 686.88 L482.70 688.28 L484.70 689.74 L486.70 691.24 L488.70 692.77 L490.70 694.33 L492.70 695.90 L494.70 697.48 L496.70 699.06 L498.70 700.63 L500.70 702.19 L502.70 703.76 L504.70 705.34 L506.70 706.94 L508.70 708.58 L510.70 710.25 L512.70 711.96 L514.70 713.70 L516.70 715.46 L518.70 717.21 L520.70 718.95 L522.70 720.66 L524.70 722.34 L526.70 723.97 L528.70 725.56 L530.70 727.10 L532.70 728.58 L534.70 730.00 L536.70 731.37 L538.70 732.67 L540.70 733.91 L542.70 735.10 L544.70 736.23 L546.70 737.30 L548.70 738.32 L550.70 739.29 L552.70 740.21 L554.70 741.09 L556.70 741.92 L558.70 742.71 L560.70 743.46 L562.70 744.18 L564.70 744.85 L566.70 745.48 L568.70 746.07 L570.70 746.63 L572.70 747.14 L574.70 747.62 L576.70 748.06 L578.70 748.47 L580.70 748.84 L582.70 749.19 L584.70 749.50 L586.70 749.79 L588.70 750.05 L590.70 750.28 L592.70 750.49 L594.70 750.67 L596.70 750.84 L598.70 751.00 L600.70 751.14 L602.70 751.26 L604.70 751.38 L606.70 751.49 L608.70 751.59 L610.70 751.68 L612.70 751.77 L614.70 751.84 L616.70 751.91 L618.70 751.97 L620.70 752.03 L622.70 752.08 L624.70 752.13 L626.70 752.17 L628.70 752.22 L630.70 752.25 L632.70 752.29 L634.70 752.32 L636.70 752.35 L638.70 752.37 L640.70 752.40 L642.70 752.42 L644.70 752.44 L646.70 752.46 L648.70 752.48 L650.70 752.50 L652.70 752.51 L654.70 752.53 L656.70 752.54 L658.70 752.55 L660.70 752.56 L662.70 752.57 L664.70 752.58 L666.70 752.59 L668.70 752.59 L670.70 752.59" stroke="#008000" stroke-width="2.35"/>
</g>
<line x1="533.6" y1="713.3" x2="670" y2="713.3" stroke="#000" stroke-width="3" stroke-linecap="round"/>
<g stroke="#000" stroke-linecap="round" fill="none">
<line x1="150.10" y1="291.30" x2="150.10" y2="755.10" stroke-width="3.8" stroke-linecap="butt"/>
<line x1="148.20" y1="293.20" x2="670" y2="293.20" stroke-width="3.8" stroke-linecap="butt"/>
<line x1="148.20" y1="753.20" x2="670" y2="753.20" stroke-width="3.8" stroke-linecap="butt"/>
<line x1="150.10" y1="744.90" x2="150.10" y2="761.80" stroke-width="3.3"/>
<line x1="150.10" y1="293.20" x2="150.10" y2="301.50" stroke-width="3.3"/>
<line x1="207.20" y1="749.00" x2="207.20" y2="757.80" stroke-width="3.1"/>
<line x1="207.20" y1="293.20" x2="207.20" y2="297.40" stroke-width="3.1"/>
<line x1="264.30" y1="744.90" x2="264.30" y2="761.80" stroke-width="3.3"/>
<line x1="264.30" y1="293.20" x2="264.30" y2="301.50" stroke-width="3.3"/>
<line x1="321.40" y1="749.00" x2="321.40" y2="757.80" stroke-width="3.1"/>
<line x1="321.40" y1="293.20" x2="321.40" y2="297.40" stroke-width="3.1"/>
<line x1="378.50" y1="744.90" x2="378.50" y2="761.80" stroke-width="3.3"/>
<line x1="378.50" y1="293.20" x2="378.50" y2="301.50" stroke-width="3.3"/>
<line x1="435.60" y1="749.00" x2="435.60" y2="757.80" stroke-width="3.1"/>
<line x1="435.60" y1="293.20" x2="435.60" y2="297.40" stroke-width="3.1"/>
<line x1="492.70" y1="744.90" x2="492.70" y2="761.80" stroke-width="3.3"/>
<line x1="492.70" y1="293.20" x2="492.70" y2="301.50" stroke-width="3.3"/>
<line x1="549.80" y1="749.00" x2="549.80" y2="757.80" stroke-width="3.1"/>
<line x1="549.80" y1="293.20" x2="549.80" y2="297.40" stroke-width="3.1"/>
<line x1="606.90" y1="744.90" x2="606.90" y2="761.80" stroke-width="3.3"/>
<line x1="606.90" y1="293.20" x2="606.90" y2="301.50" stroke-width="3.3"/>
<line x1="664.00" y1="749.00" x2="664.00" y2="757.80" stroke-width="3.1"/>
<line x1="664.00" y1="293.20" x2="664.00" y2="297.40" stroke-width="3.1"/>
<line x1="150.10" y1="725.51" x2="154.70" y2="725.51" stroke-width="3.0"/>
<line x1="150.10" y1="709.30" x2="154.70" y2="709.30" stroke-width="3.0"/>
<line x1="150.10" y1="697.81" x2="154.70" y2="697.81" stroke-width="3.0"/>
<line x1="150.10" y1="688.89" x2="154.70" y2="688.89" stroke-width="3.0"/>
<line x1="150.10" y1="681.61" x2="154.70" y2="681.61" stroke-width="3.0"/>
<line x1="150.10" y1="675.45" x2="154.70" y2="675.45" stroke-width="3.0"/>
<line x1="150.10" y1="670.12" x2="154.70" y2="670.12" stroke-width="3.0"/>
<line x1="150.10" y1="665.41" x2="154.70" y2="665.41" stroke-width="3.0"/>
<line x1="150.10" y1="661.20" x2="158.80" y2="661.20" stroke-width="3.2"/>
<line x1="150.10" y1="633.51" x2="154.70" y2="633.51" stroke-width="3.0"/>
<line x1="150.10" y1="617.30" x2="154.70" y2="617.30" stroke-width="3.0"/>
<line x1="150.10" y1="605.81" x2="154.70" y2="605.81" stroke-width="3.0"/>
<line x1="150.10" y1="596.89" x2="154.70" y2="596.89" stroke-width="3.0"/>
<line x1="150.10" y1="589.61" x2="154.70" y2="589.61" stroke-width="3.0"/>
<line x1="150.10" y1="583.45" x2="154.70" y2="583.45" stroke-width="3.0"/>
<line x1="150.10" y1="578.12" x2="154.70" y2="578.12" stroke-width="3.0"/>
<line x1="150.10" y1="573.41" x2="154.70" y2="573.41" stroke-width="3.0"/>
<line x1="150.10" y1="569.20" x2="158.80" y2="569.20" stroke-width="3.2"/>
<line x1="150.10" y1="541.51" x2="154.70" y2="541.51" stroke-width="3.0"/>
<line x1="150.10" y1="525.30" x2="154.70" y2="525.30" stroke-width="3.0"/>
<line x1="150.10" y1="513.81" x2="154.70" y2="513.81" stroke-width="3.0"/>
<line x1="150.10" y1="504.89" x2="154.70" y2="504.89" stroke-width="3.0"/>
<line x1="150.10" y1="497.61" x2="154.70" y2="497.61" stroke-width="3.0"/>
<line x1="150.10" y1="491.45" x2="154.70" y2="491.45" stroke-width="3.0"/>
<line x1="150.10" y1="486.12" x2="154.70" y2="486.12" stroke-width="3.0"/>
<line x1="150.10" y1="481.41" x2="154.70" y2="481.41" stroke-width="3.0"/>
<line x1="150.10" y1="477.20" x2="158.80" y2="477.20" stroke-width="3.2"/>
<line x1="150.10" y1="449.51" x2="154.70" y2="449.51" stroke-width="3.0"/>
<line x1="150.10" y1="433.30" x2="154.70" y2="433.30" stroke-width="3.0"/>
<line x1="150.10" y1="421.81" x2="154.70" y2="421.81" stroke-width="3.0"/>
<line x1="150.10" y1="412.89" x2="154.70" y2="412.89" stroke-width="3.0"/>
<line x1="150.10" y1="405.61" x2="154.70" y2="405.61" stroke-width="3.0"/>
<line x1="150.10" y1="399.45" x2="154.70" y2="399.45" stroke-width="3.0"/>
<line x1="150.10" y1="394.12" x2="154.70" y2="394.12" stroke-width="3.0"/>
<line x1="150.10" y1="389.41" x2="154.70" y2="389.41" stroke-width="3.0"/>
<line x1="150.10" y1="385.20" x2="158.80" y2="385.20" stroke-width="3.2"/>
<line x1="150.10" y1="357.51" x2="154.70" y2="357.51" stroke-width="3.0"/>
<line x1="150.10" y1="341.30" x2="154.70" y2="341.30" stroke-width="3.0"/>
<line x1="150.10" y1="329.81" x2="154.70" y2="329.81" stroke-width="3.0"/>
<line x1="150.10" y1="320.89" x2="154.70" y2="320.89" stroke-width="3.0"/>
<line x1="150.10" y1="313.61" x2="154.70" y2="313.61" stroke-width="3.0"/>
<line x1="150.10" y1="307.45" x2="154.70" y2="307.45" stroke-width="3.0"/>
<line x1="150.10" y1="302.12" x2="154.70" y2="302.12" stroke-width="3.0"/>
<line x1="150.10" y1="297.41" x2="154.70" y2="297.41" stroke-width="3.0"/>
</g>
<line x1="167" y1="380.65" x2="177.5" y2="380.65" stroke="#000" stroke-width="2.0" stroke-linecap="round"/>
<path d="M156.0 380.55 L167.2 377.7 L167.2 383.4 Z" fill="#000" stroke="#000" stroke-width="1.6" stroke-linejoin="round"/>
<rect x="432.2" y="325.1" width="141" height="193.9" fill="#fff" stroke="#111" stroke-width="1.1"/>
<line x1="435.2" y1="344.0" x2="488.8" y2="344.0" stroke="#ff0000" stroke-width="2.3"/>
<text transform="translate(494.60 352.40) scale(1.2400 1.1300)" font-size="23.6" text-anchor="start" class="t sym">α</text>
<text transform="translate(509.70 352.40) scale(1.0000 1.0600)" font-size="23.4" text-anchor="start" class="t">=0</text>
<line x1="435.2" y1="376.0" x2="488.8" y2="376.0" stroke="#00ff00" stroke-width="2.3"/>
<text transform="translate(494.60 384.40) scale(1.2400 1.1300)" font-size="23.6" text-anchor="start" class="t sym">α</text>
<text transform="translate(509.70 384.40) scale(1.0000 1.0600)" font-size="23.4" text-anchor="start" class="t">=0.05</text>
<line x1="435.2" y1="408.0" x2="488.8" y2="408.0" stroke="#0000ff" stroke-width="2.3"/>
<text transform="translate(494.60 416.40) scale(1.2400 1.1300)" font-size="23.6" text-anchor="start" class="t sym">α</text>
<text transform="translate(509.70 416.40) scale(1.0000 1.0600)" font-size="23.4" text-anchor="start" class="t">=0.</text>
<path transform="translate(542.88 416.40) scale(0.01143 -0.01193)" d="M763 0H583V1147Q518 1085 412.5 1023T223 930V1104Q374 1175 487 1276T647 1472H763Z" fill="#000"/>
<line x1="435.2" y1="440.0" x2="488.8" y2="440.0" stroke="#800080" stroke-width="2.3"/>
<text transform="translate(494.60 448.40) scale(1.2400 1.1300)" font-size="23.6" text-anchor="start" class="t sym">α</text>
<text transform="translate(509.70 448.40) scale(1.0000 1.0600)" font-size="23.4" text-anchor="start" class="t">=0.</text>
<path transform="translate(542.88 448.40) scale(0.01143 -0.01193)" d="M763 0H583V1147Q518 1085 412.5 1023T223 930V1104Q374 1175 487 1276T647 1472H763Z" fill="#000"/>
<text transform="translate(555.89 448.40) scale(1.0000 1.0600)" font-size="23.4" text-anchor="start" class="t">5</text>
<line x1="435.2" y1="472.0" x2="488.8" y2="472.0" stroke="#ff8000" stroke-width="2.3"/>
<text transform="translate(494.60 480.40) scale(1.2400 1.1300)" font-size="23.6" text-anchor="start" class="t sym">α</text>
<text transform="translate(509.70 480.40) scale(1.0000 1.0600)" font-size="23.4" text-anchor="start" class="t">=0.2</text>
<line x1="435.2" y1="504.0" x2="488.8" y2="504.0" stroke="#008000" stroke-width="2.3"/>
<text transform="translate(494.60 512.40) scale(1.2400 1.1300)" font-size="23.6" text-anchor="start" class="t sym">α</text>
<text transform="translate(509.70 512.40) scale(1.0000 1.0600)" font-size="23.4" text-anchor="start" class="t">=0.25</text>
<text transform="translate(266.30 366.50) scale(1.0000 1.0600)" font-size="30.0" text-anchor="start" class="t">Be+</text>
<path transform="translate(320.51 366.50) scale(0.01465 -0.01529)" d="M763 0H583V1147Q518 1085 412.5 1023T223 930V1104Q374 1175 487 1276T647 1472H763Z" fill="#000"/>
<text transform="translate(337.19 366.50) scale(1.0000 1.0600)" font-size="30.0" text-anchor="start" class="t">%Cu</text>
<text transform="translate(97.58 762.90) scale(1.0000 1.0600)" font-size="29.8" text-anchor="start" class="t">0.</text>
<path transform="translate(122.43 762.90) scale(0.01455 -0.01519)" d="M763 0H583V1147Q518 1085 412.5 1023T223 930V1104Q374 1175 487 1276T647 1472H763Z" fill="#000"/>
<path transform="translate(122.43 670.90) scale(0.01455 -0.01519)" d="M763 0H583V1147Q518 1085 412.5 1023T223 930V1104Q374 1175 487 1276T647 1472H763Z" fill="#000"/>
<path transform="translate(105.86 578.90) scale(0.01455 -0.01519)" d="M763 0H583V1147Q518 1085 412.5 1023T223 930V1104Q374 1175 487 1276T647 1472H763Z" fill="#000"/>
<text transform="translate(122.43 578.90) scale(1.0000 1.0600)" font-size="29.8" text-anchor="start" class="t">0</text>
<path transform="translate(89.29 486.90) scale(0.01455 -0.01519)" d="M763 0H583V1147Q518 1085 412.5 1023T223 930V1104Q374 1175 487 1276T647 1472H763Z" fill="#000"/>
<text transform="translate(105.86 486.90) scale(1.0000 1.0600)" font-size="29.8" text-anchor="start" class="t">00</text>
<path transform="translate(72.72 394.90) scale(0.01455 -0.01519)" d="M763 0H583V1147Q518 1085 412.5 1023T223 930V1104Q374 1175 487 1276T647 1472H763Z" fill="#000"/>
<text transform="translate(89.29 394.90) scale(1.0000 1.0600)" font-size="29.8" text-anchor="start" class="t">000</text>
<path transform="translate(56.16 302.90) scale(0.01455 -0.01519)" d="M763 0H583V1147Q518 1085 412.5 1023T223 930V1104Q374 1175 487 1276T647 1472H763Z" fill="#000"/>
<text transform="translate(72.72 302.90) scale(1.0000 1.0600)" font-size="29.8" text-anchor="start" class="t">0000</text>
<text transform="translate(141.45 793.20) scale(1.0000 1.0600)" font-size="30.4" text-anchor="start" class="t">0</text>
<path transform="translate(255.65 793.20) scale(0.01484 -0.01550)" d="M763 0H583V1147Q518 1085 412.5 1023T223 930V1104Q374 1175 487 1276T647 1472H763Z" fill="#000"/>
<text transform="translate(369.85 793.20) scale(1.0000 1.0600)" font-size="30.4" text-anchor="start" class="t">2</text>
<text transform="translate(484.05 793.20) scale(1.0000 1.0600)" font-size="30.4" text-anchor="start" class="t">3</text>
<text transform="translate(598.25 793.20) scale(1.0000 1.0600)" font-size="30.4" text-anchor="start" class="t">4</text>
<text transform="translate(374.60 827.90) scale(1.0000 0.9850)" font-size="39.1" text-anchor="start" class="t">h</text>
<text transform="translate(396.50 827.90) scale(1.1000 0.9850)" font-size="39.1" text-anchor="start" class="t sym">ν</text>
<text transform="translate(426.30 827.90) scale(1.0000 0.9850)" font-size="39.1" text-anchor="start" class="t">(KeV)</text>
<text transform="translate(70.2 592.50) rotate(-90) scale(1.0 1.06)" font-size="38" class="t">K<tspan dy="8.2">t</tspan><tspan dy="-8.2"> </tspan><tspan font-size="31.5" dx="0.8">(</tspan><tspan dx="0.6">cm</tspan><tspan dy="-11.0">2</tspan><tspan dy="11.0">/g</tspan><tspan font-size="31.5" dx="0.6">)</tspan></text>
</svg>
</body></html>
